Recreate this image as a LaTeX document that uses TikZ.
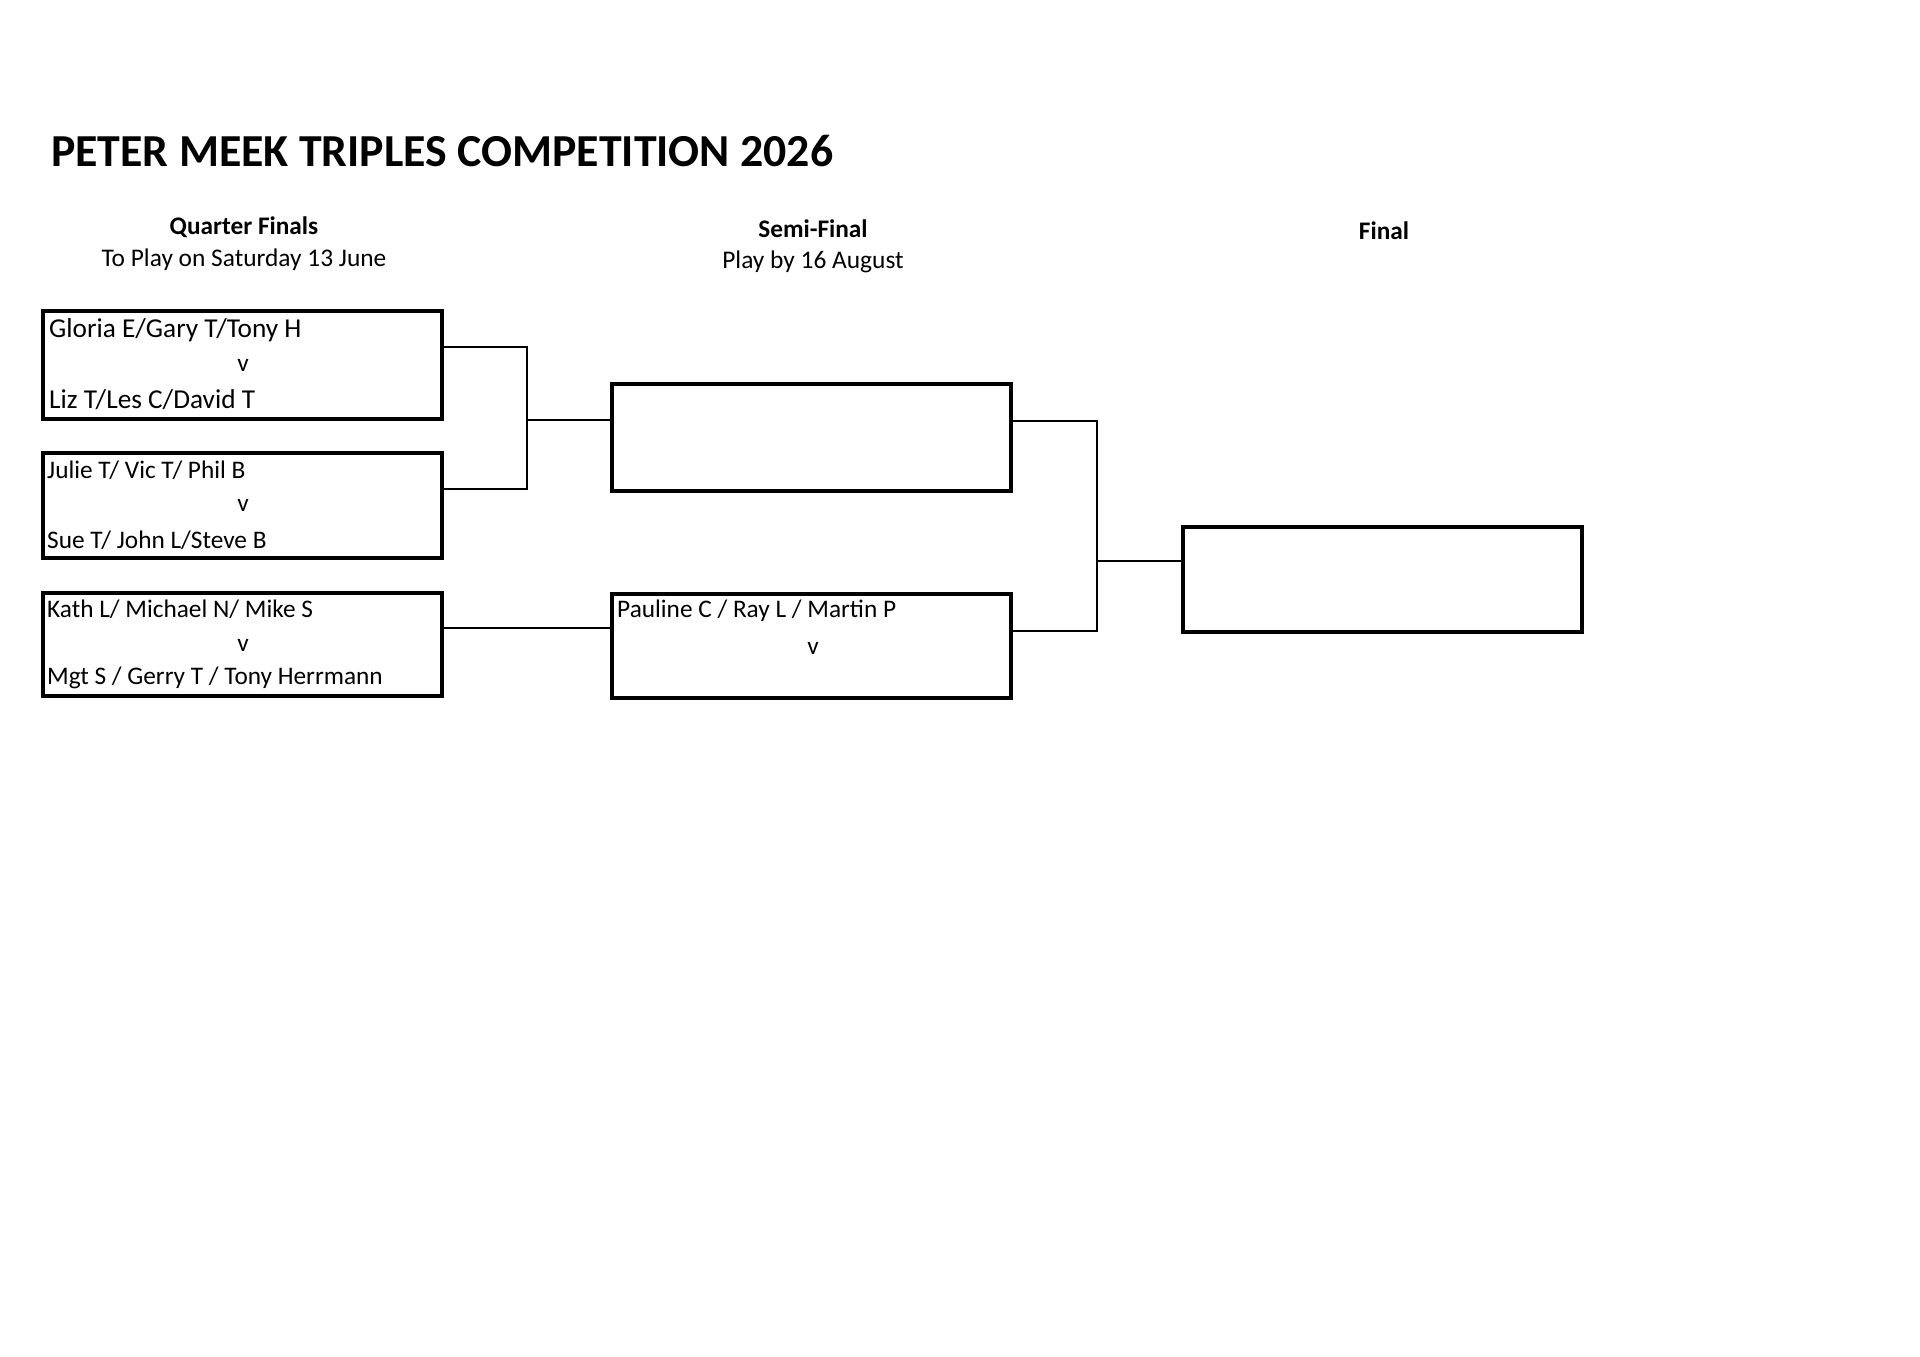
\documentclass[tikz,border=0pt]{standalone}
\usepackage{fontspec}
\setmainfont{Carlito}
\begin{document}
\begin{tikzpicture}[x=1pt,y=-1pt,
  box/.style={draw=black,line width=3.6pt,rectangle,inner sep=0pt,outer sep=0pt,anchor=north west,minimum width=399pt},
  conn/.style={draw=black,line width=1.8pt},
  ttl/.style={font=\fontsize{45.8}{50}\selectfont\bfseries,anchor=west,inner sep=0pt},
  hdb/.style={font=\fontsize{25.3}{28}\selectfont\bfseries,inner sep=0pt},
  hdr/.style={font=\fontsize{25.4}{28}\selectfont,inner sep=0pt},
  nm/.style={font=\fontsize{25.3}{28}\selectfont,anchor=west,inner sep=0pt},
  nmb/.style={font=\fontsize{27.3}{30}\selectfont,anchor=west,inner sep=0pt},
  vs/.style={font=\fontsize{25.3}{28}\selectfont,inner sep=0pt}]
\fill[white] (0,0) rectangle (1920,1357);
\useasboundingbox (0,0) rectangle (1920,1357);

\node[ttl] (title) at (51,151) {PETER MEEK TRIPLES COMPETITION 2026};

\node[hdb] (hqf) at (244,227) {Quarter Finals};
\node[hdr] (hqfd) at (244,260) {To Play on Saturday 13 June};
\node[hdb] (hsf) at (813,229) {Semi-Final};
\node[hdr] (hsfd) at (813,262) {Play by 16 August};
\node[hdb] (hf) at (1384,231) {Final};

% quarter final boxes
\node[box,minimum height=108pt] (qf1) at (43,311) {};
\node[box,minimum height=105pt] (qf2) at (43,453) {};
\node[box,minimum height=103pt] (qf3) at (43,593) {};
% semi final boxes
\node[box,minimum height=107pt] (sf1) at (612,384) {};
\node[box,minimum height=104pt] (sf2) at (612,594) {};
% final box
\node[box,minimum height=105pt] (fin) at (1183,527) {};

% texts
\node[nmb] (t1a) at (49,330) {Gloria E/Gary T/Tony H};
\node[vs] (t1v) at (243,365) {v};
\node[nmb] (t1b) at (49,400) {Liz T/Les C/David T};
\node[nm] (t2a) at (47,470) {Julie T/ Vic T/ Phil B};
\node[vs] (t2v) at (243,505) {v};
\node[nm] (t2b) at (47,540) {Sue T/ John L/Steve B};
\node[nm] (t3a) at (47,609) {Kath L/ Michael N/ Mike S};
\node[vs] (t3v) at (243,645) {v};
\node[nm] (t3b) at (47,678) {Mgt S / Gerry T / Tony Herrmann};
\node[nm] (t4a) at (617,611) {Pauline C / Ray L / Martin P};
\node[vs] (t4v) at (813,648) {v};

% connectors
\coordinate (j1) at (527,420);
\coordinate (j2) at (1097,561);
\coordinate (k3) at (527,628);
\draw[conn] ([yshift=18pt]qf1.east) -| (j1);
\draw[conn] ([yshift=16.5pt]qf2.east) -| (j1);
\draw[conn] (j1) -- (j1 -| sf1.west);
\draw[conn] (k3 -| qf3.east) -- (k3 -| sf2.west);
\draw[conn] ([yshift=16.5pt]sf1.east) -| (j2);
\draw[conn] ([yshift=15pt]sf2.east) -| (j2);
\draw[conn] (j2) -- (j2 -| fin.west);
\end{tikzpicture}
\end{document}
